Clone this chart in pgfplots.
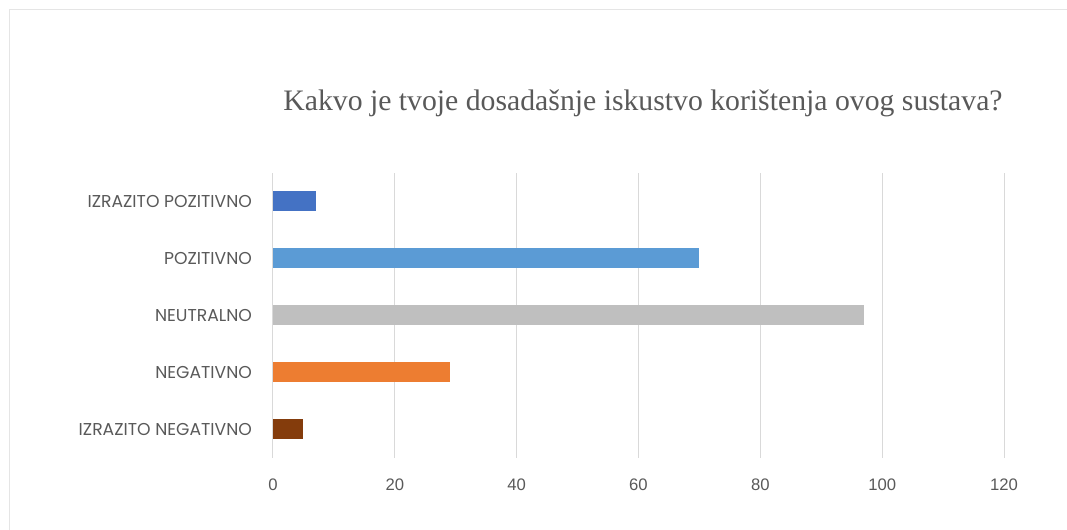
\documentclass[border=0pt]{standalone}
\usepackage{fontspec}
\setmainfont{Liberation Sans}
\newfontfamily\poppins{Poppins}
\newfontfamily\titlefont{Liberation Serif}
\usepackage{pgfplots}
\pgfplotsset{compat=1.18}
\definecolor{txt}{HTML}{595959}
\definecolor{gridc}{HTML}{D9D9D9}
\definecolor{c1}{HTML}{4472C4}
\definecolor{c2}{HTML}{5B9BD5}
\definecolor{c3}{HTML}{BFBFBF}
\definecolor{c4}{HTML}{ED7D31}
\definecolor{c5}{HTML}{843C0C}
\begin{document}
\begin{tikzpicture}
\path[use as bounding box] (-204.75pt,-53.625pt) rectangle (595.5pt,343.125pt);
\draw[color=black!10, line width=0.75pt] (-197.25pt,-60pt) -- (-197.25pt,335.625pt) -- (600pt,335.625pt);
\begin{axis}[
  scale only axis,
  width=548.25pt, height=213.75pt,
  xmin=0, xmax=120, ymin=-0.5, ymax=4.5,
  xtick={0,20,...,120},
  ytick={0,1,2,3,4},
  yticklabels={IZRAZITO NEGATIVNO, NEGATIVNO, NEUTRALNO, POZITIVNO, IZRAZITO POZITIVNO},
  xbar, bar width=15pt, bar shift=0pt,
  axis line style={draw=none},
  major tick style={draw=none},
  xmajorgrids, major grid style={color=gridc, line width=0.75pt},
  /pgf/number format/assume math mode=true,
  xticklabel style={font=\fontsize{12.5}{14}\selectfont, text=txt, yshift=-12.5pt},
  yticklabel style={font=\poppins\fontsize{12.9}{15}\selectfont, text=txt, xshift=-8pt},
]
\addplot[fill=c5, draw=none] coordinates {(5,0)};
\addplot[fill=c4, draw=none] coordinates {(29,1)};
\addplot[fill=c3, draw=none] coordinates {(97,2)};
\addplot[fill=c2, draw=none] coordinates {(70,3)};
\addplot[fill=c1, draw=none] coordinates {(7,4)};
\end{axis}
\node[text=txt, font=\titlefont\fontsize{22.3}{26}\selectfont] at (277.5pt,265.9pt) {Kakvo je tvoje dosadašnje iskustvo korištenja ovog sustava?};
\end{tikzpicture}
\end{document}
